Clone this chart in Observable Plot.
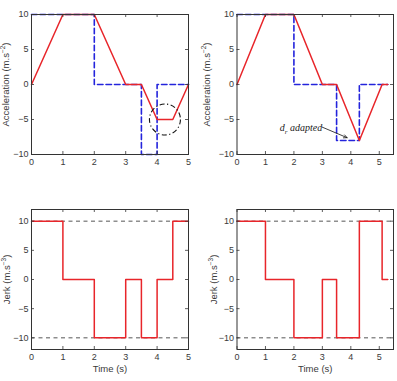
<!DOCTYPE html>
<html>
<head>
<meta charset="utf-8">
<script src="https://cdn.jsdelivr.net/npm/d3@7"></script>
<script src="https://cdn.jsdelivr.net/npm/@observablehq/plot@0.6"></script>
<style>
  body { margin: 0; background: #fff; }
  #fig { position: relative; width: 397px; height: 381px; overflow: hidden; background: #fff; }
  #fig > svg { position: absolute; }
</style>
</head>
<body>
<div id="fig"></div>
<script>
// ---- Left column: nominal profile ----
const accTimeA   = [0, 1, 2, 3, 3.5, 4, 4.5, 5];
const accA       = [0, 10, 10, 0, 0, -5, -5, 0];
const boundTimeA = [0, 2, 3.5, 4, 5];
const boundA     = [10, 0, -10, 0, 0];
const jerkTimeA  = [0, 1, 2, 3, 3.5, 4, 4.5, 5];
const jerkA      = [10, 0, -10, 0, -10, 0, 10, 10];

// ---- Right column: adapted profile ----
const accTimeB   = [0, 1, 2, 3, 3.5, 4.3, 5.1, 5.3];
const accB       = [0, 10, 10, 0, 0, -8, 0, 0];
const boundTimeB = [0, 2, 3.5, 4.3, 5.3];
const boundB     = [10, 0, -8, 0, 0];
const jerkTimeB  = [0, 1, 2, 3, 3.5, 4.3, 5.1, 5.3];
const jerkB      = [10, 0, -10, 0, -10, 10, 0, 0];

// jerk limits (dashed reference lines)
const jerkLimits = [-10, 10];

// axis ticks
const accTicks   = [-10, -5, 0, 5, 10];
const jerkTicks  = [-10, -5, 0, 5, 10];
const timeTicks  = [0, 1, 2, 3, 4, 5];

// highlight around the clipped deceleration (left) and note (right)
const highlightX = [4.25];
const highlightY = [-5];
const noteX      = [1.5];
const noteY      = [-6.2];
const noteArrowFrom = [{x: 3.0, y: -6.1}];
const noteArrowTo   = [{x: 3.87, y: -7.6}];

const RED = "#e8252a";
const BLUE = "#2424dc";
const INK = "#333";
const FONT = "'Liberation Sans', Arial, Helvetica, sans-serif";

const zip = (xs, ys) => xs.map((x, i) => ({x, y: ys[i]}));

function panel({left, top, width, height, m, xDomain, yDomain, yTicks, yLabel, xLabel, yLabelOffset, marks}) {
  const [mt, mr, mb, ml] = m;
  const innerW = width - ml - mr, innerH = height - mt - mb;
  const tick = 3;
  const svg = Plot.plot({
    width, height,
    marginTop: mt, marginRight: mr, marginBottom: mb, marginLeft: ml,
    x: {domain: xDomain},
    y: {domain: yDomain},
    style: {fontFamily: FONT, fontSize: "8.5px", color: "#3a3a3a", background: "transparent", overflow: "visible"},
    marks: [
      ...marks,
      // inward tick marks on all four sides
      Plot.tickX(timeTicks, {x: d => d, insetTop: innerH - tick, stroke: INK, strokeWidth: 0.8}),
      Plot.tickX(timeTicks, {x: d => d, insetBottom: innerH - tick, stroke: INK, strokeWidth: 0.8}),
      Plot.tickY(yTicks, {y: d => d, insetRight: innerW - tick, stroke: INK, strokeWidth: 0.8}),
      Plot.tickY(yTicks, {y: d => d, insetLeft: innerW - tick, stroke: INK, strokeWidth: 0.8}),
      Plot.axisX(timeTicks, {tickSize: 0, tickPadding: 4, label: null, fontSize: 9}),
      Plot.axisY(yTicks, {tickSize: 0, tickPadding: 3, label: null, fontSize: 9}),
      ...(xLabel ? [Plot.axisX({tickSize: 0, ticks: [], label: xLabel, labelAnchor: "center", labelArrow: "none", labelOffset: 22, fontSize: 9.5})] : []),
      Plot.axisY({tickSize: 0, ticks: [], label: yLabel, labelAnchor: "center", labelArrow: "none", labelOffset: yLabelOffset, fontSize: 9.5}),
      Plot.frame({stroke: INK, strokeWidth: 1})
    ]
  });
  svg.style.left = left + "px";
  svg.style.top = top + "px";
  document.getElementById("fig").appendChild(svg);
  return svg;
}

// superscript units in the y-axis title
function superscript(svg, base, sup) {
  const t = d3.select(svg).select('g[aria-label="y-axis label"] text');
  t.text(null);
  t.append("tspan").text(base);
  t.append("tspan").attr("dy", -4).attr("font-size", "6.5px").text(sup);
  t.append("tspan").attr("dy", 4).text(")");
}

const accMarks = (t, a, bt, b) => [
  Plot.line(zip(bt, b), {x: "x", y: "y", curve: "step-after", stroke: BLUE, strokeWidth: 1.6, strokeDasharray: "5.5,3"}),
  Plot.line(zip(t, a), {x: "x", y: "y", stroke: RED, strokeWidth: 1.5})
];
const jerkMarks = (t, j) => [
  Plot.ruleY(jerkLimits, {stroke: "#555", strokeWidth: 1, strokeDasharray: "4,3.5"}),
  Plot.line(zip(t, j), {x: "x", y: "y", curve: "step-after", stroke: RED, strokeWidth: 1.5})
];

const accLabel = "Acceleration (m.s−2)";
const jerkLabel = "Jerk (m.s−3)";

// top-left: acceleration, nominal
const p1 = panel({
  left: 0, top: 0, width: 200, height: 190, m: [14, 12, 36, 31],
  xDomain: [0, 5], yDomain: [-10, 10], yTicks: accTicks,
  yLabel: accLabel, xLabel: null, yLabelOffset: 29,
  marks: [
    ...accMarks(accTimeA, accA, boundTimeA, boundA),
    Plot.dot(highlightX, {x: d => d, y: (d, i) => highlightY[i], r: 15.5, stroke: "#111", strokeWidth: 1.1, strokeDasharray: "5,2.5,1.2,2.5", fill: "none"})
  ]
});
superscript(p1, "Acceleration (m.s", "−2");

// top-right: acceleration, adapted
const p2 = panel({
  left: 200, top: 0, width: 197, height: 190, m: [14, 4, 36, 36.5],
  xDomain: [0, 5.5], yDomain: [-10, 10], yTicks: accTicks,
  yLabel: accLabel, xLabel: null, yLabelOffset: 34,
  marks: [
    ...accMarks(accTimeB, accB, boundTimeB, boundB),
    Plot.arrow(noteArrowFrom, {x1: "x", y1: "y", x2: (d, i) => noteArrowTo[i].x, y2: (d, i) => noteArrowTo[i].y, stroke: "#111", strokeWidth: 0.8, headLength: 7, headAngle: 50, bend: 0}),
    Plot.text(noteX, {x: d => d, y: (d, i) => noteY[i], text: () => "d adapted", textAnchor: "start", fontFamily: "'Liberation Serif', 'Times New Roman', serif", fontStyle: "italic", fontSize: 10, fill: "#222"})
  ]
});
superscript(p2, "Acceleration (m.s", "−2");
{
  const t = d3.select(p2).select('g[aria-label="text"] text');
  t.text(null);
  t.append("tspan").text("d");
  t.append("tspan").attr("dy", 2.5).attr("font-size", "7px").text("r");
  t.append("tspan").attr("dy", -2.5).text(" adapted");
}

// bottom-left: jerk, nominal
const p3 = panel({
  left: 0, top: 190, width: 200, height: 191, m: [19, 12, 32, 31],
  xDomain: [0, 5], yDomain: [-12, 12], yTicks: jerkTicks,
  yLabel: jerkLabel, xLabel: "Time (s)", yLabelOffset: 28,
  marks: jerkMarks(jerkTimeA, jerkA)
});
superscript(p3, "Jerk (m.s", "−3");

// bottom-right: jerk, adapted
const p4 = panel({
  left: 200, top: 190, width: 197, height: 191, m: [19, 4, 32, 36.5],
  xDomain: [0, 5.5], yDomain: [-12, 12], yTicks: jerkTicks,
  yLabel: jerkLabel, xLabel: "Time (s)", yLabelOffset: 27,
  marks: jerkMarks(jerkTimeB, jerkB)
});
superscript(p4, "Jerk (m.s", "−3");
</script>
</body>
</html>
